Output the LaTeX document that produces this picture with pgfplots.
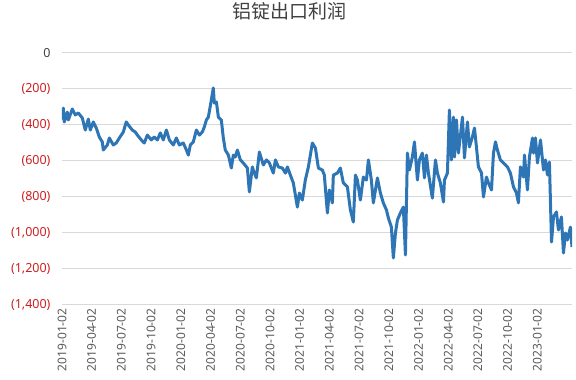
\documentclass[border=0pt]{standalone}
\usepackage{pgfplots}
\pgfplotsset{compat=1.18}
\usepackage{fontspec}
\setmainfont{Noto Sans}
\newfontfamily\cjk{Noto Sans CJK SC}
\definecolor{lineblue}{RGB}{46,117,182}
\definecolor{gridgray}{RGB}{217,217,217}
\definecolor{negred}{RGB}{205,30,30}
\definecolor{labgray}{RGB}{89,89,89}
\definecolor{titlegray}{RGB}{64,64,64}
\begin{document}
\begin{tikzpicture}
\useasboundingbox (0,0) rectangle (576pt,380pt);
\begin{axis}[
  at={(62pt,75pt)}, anchor=south west,
  scale only axis, width=510pt, height=252pt,
  xmin=0, xmax=51.5, ymin=-1400, ymax=0,
  axis line style={draw=none},
  tick style={draw=none},
  ymajorgrids, grid style={gridgray, line width=1pt},
  ytick={-1400,-1200,-1000,-800,-600,-400,-200,0},
  yticklabels={{\color{negred}(1,400)},{\color{negred}(1,200)},{\color{negred}(1,000)},{\color{negred}(800)},{\color{negred}(600)},{\color{negred}(400)},{\color{negred}(200)},{\color{titlegray}0}},
  yticklabel style={font=\fontsize{12.5}{14}\selectfont, anchor=east, xshift=-8pt},
  xtick={0,3,6,9,12,15,18,21,24,27,30,33,36,39,42,45,48},
  xticklabels={2019-01-02,2019-04-02,2019-07-02,2019-10-02,2020-01-02,2020-04-02,2020-07-02,2020-10-02,2021-01-02,2021-04-02,2021-07-02,2021-10-02,2022-01-02,2022-04-02,2022-07-02,2022-10-02,2023-01-02},
  xticklabel style={font=\fontsize{12}{13}\selectfont, text=labgray, rotate=90, anchor=east, yshift=0pt},
  title={\cjk 铝锭出口利润},
  title style={at={(0.447,1)}, anchor=center, yshift=36pt, font=\fontsize{19}{22}\selectfont, text=titlegray},
]
\addplot[lineblue, line width=3pt, line join=round] table {
x y
0.00 -370
0.13 -306
0.23 -383
0.54 -328
0.64 -372
1.04 -311
1.34 -344
1.65 -333
2.05 -361
2.15 -383
2.35 -428
2.66 -367
2.86 -428
3.16 -383
3.46 -417
3.77 -467
4.07 -494
4.17 -539
4.58 -511
4.78 -472
5.18 -511
5.48 -500
5.79 -472
6.19 -439
6.49 -383
6.70 -400
7.10 -428
7.40 -439
7.61 -456
8.01 -483
8.31 -500
8.62 -456
9.02 -483
9.32 -467
9.63 -483
9.93 -444
10.23 -483
10.54 -428
10.84 -483
11.24 -511
11.55 -472
11.85 -511
12.25 -500
12.56 -539
12.76 -567
12.96 -511
13.26 -494
13.57 -428
13.87 -456
14.17 -439
14.37 -411
14.58 -372
14.78 -356
15.08 -261
15.28 -194
15.38 -278
15.59 -272
15.79 -356
16.09 -372
16.29 -472
16.49 -539
16.80 -567
17.10 -639
17.30 -567
17.50 -578
17.71 -539
18.01 -594
18.31 -611
18.72 -639
18.92 -772
19.22 -633
19.42 -667
19.63 -694
19.93 -550
20.33 -622
20.64 -594
20.94 -611
21.34 -667
21.55 -594
21.85 -633
22.25 -639
22.56 -667
22.76 -633
23.06 -678
23.36 -722
23.77 -856
23.97 -778
24.27 -817
24.57 -706
24.88 -633
25.28 -500
25.59 -528
25.89 -639
26.29 -650
26.49 -678
26.80 -889
27.00 -761
27.30 -833
27.40 -678
27.81 -667
28.11 -639
28.41 -722
28.82 -744
29.12 -872
29.42 -939
29.63 -678
29.83 -706
30.13 -817
30.43 -689
30.74 -706
30.94 -594
31.24 -706
31.44 -833
31.85 -694
32.15 -778
32.45 -833
32.76 -872
32.96 -917
33.26 -967
33.46 -1139
33.67 -1000
33.87 -928
34.17 -889
34.47 -856
34.68 -1122
34.88 -556
35.08 -650
35.38 -578
35.59 -494
35.89 -706
36.09 -594
36.39 -556
36.60 -694
36.80 -567
37.00 -667
37.40 -806
37.71 -594
37.91 -667
38.21 -722
38.52 -828
38.62 -706
38.92 -667
39.12 -317
39.32 -594
39.53 -356
39.63 -578
39.83 -372
40.03 -556
40.33 -411
40.44 -356
40.64 -583
40.94 -383
41.14 -522
41.44 -467
41.65 -417
41.85 -522
42.05 -633
42.36 -667
42.56 -800
42.86 -689
43.06 -722
43.37 -761
43.57 -556
43.77 -494
43.97 -539
44.27 -594
44.58 -611
44.98 -633
45.28 -667
45.59 -744
45.89 -778
46.09 -833
46.29 -633
46.60 -689
46.70 -567
47.00 -761
47.20 -578
47.51 -472
47.61 -556
47.81 -472
48.01 -611
48.32 -483
48.62 -650
48.82 -594
49.02 -678
49.22 -606
49.43 -1050
49.63 -911
49.93 -883
50.13 -983
50.43 -911
50.64 -1111
50.84 -1000
51.04 -1039
51.34 -967
51.50 -1078
};
\end{axis}
\end{tikzpicture}
\end{document}
